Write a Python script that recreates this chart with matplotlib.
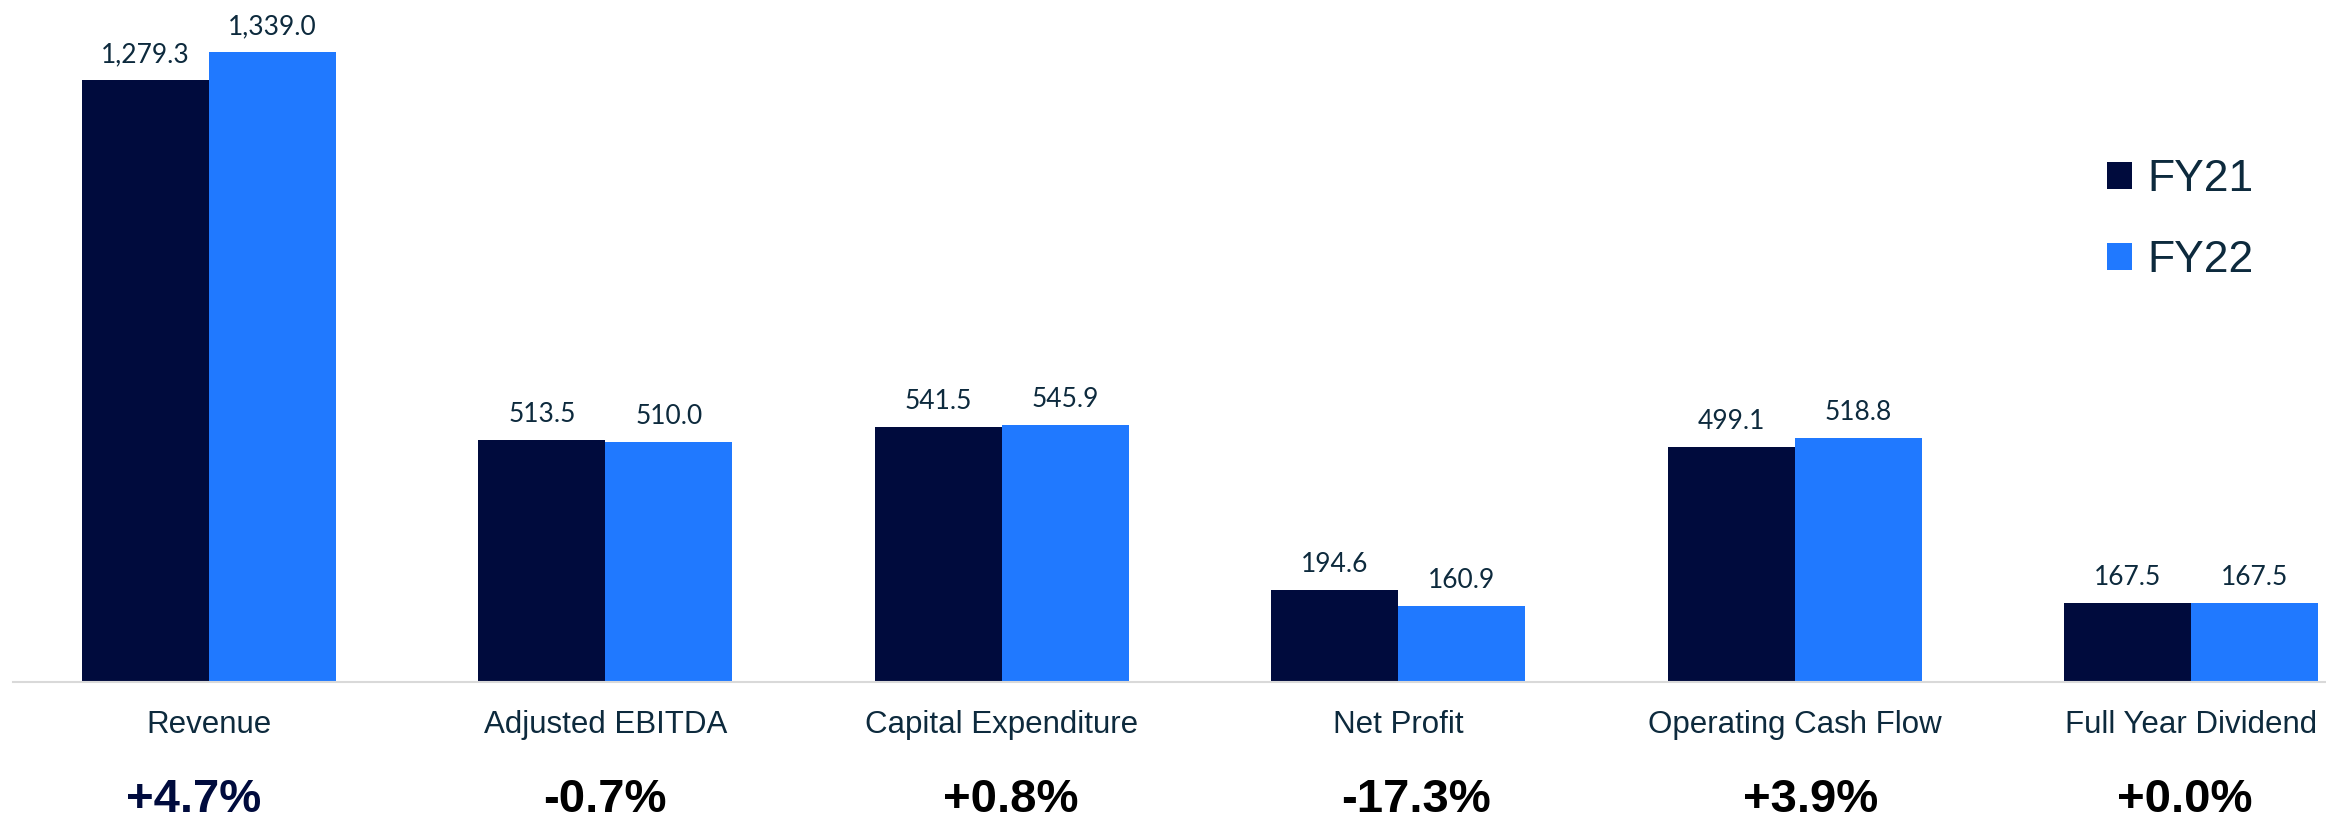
import matplotlib.pyplot as plt
import numpy as np

# data
categories = ['Revenue', 'Adjusted EBITDA', 'Capital Expenditure', 'Net Profit',
              'Operating Cash Flow', 'Full Year Dividend']
fy21 = [1279.3, 513.5, 541.5, 194.6, 499.1, 167.5]
fy22 = [1339.0, 510.0, 545.9, 160.9, 518.8, 167.5]
changes = ['+4.7%', '-0.7%', '+0.8%', '-17.3%', '+3.9%', '+0.0%']
series_names = ['FY21', 'FY22']

# horizontal nudges (points) of the change labels, as placed in the source slide
change_dx = [-10.8, 0, 6.5, 13, 11.5, -5]

NAVY = '#000b3d'
BLUE = '#2079ff'
TEXT = '#0d2a3d'

fig = plt.figure(figsize=(23.26, 8.18), dpi=100)
ax = fig.add_axes([0.0056, 0.1663, 0.9944, 0.8337])

x = np.arange(len(categories))
w = 0.32
b1 = ax.bar(x - w / 2, fy21, w, color=NAVY, label=series_names[0])
b2 = ax.bar(x + w / 2, fy22, w, color=BLUE, label=series_names[1])

ax.set_xlim(-0.494, 5.34)
ax.set_ylim(0, 1450)

# value labels above bars
for bars, vals in [(b1, fy21), (b2, fy22)]:
    for rect, v in zip(bars, vals):
        ax.annotate(f'{v:,.1f}', xy=(rect.get_x() + rect.get_width() / 2, v),
                    xytext=(0, 13), textcoords='offset points',
                    ha='center', va='baseline', fontsize=19,
                    family='Lato', color=TEXT)

# category names and change labels under the axis
for i, (cat, ch) in enumerate(zip(categories, changes)):
    ax.annotate(cat, xy=(i, 0), xycoords=('data', 'axes fraction'),
                xytext=(0, -36.7), textcoords='offset points',
                ha='center', va='baseline', fontsize=22.5,
                family='Liberation Sans', color=TEXT, annotation_clip=False)
    ax.annotate(ch, xy=(i, 0), xycoords=('data', 'axes fraction'),
                xytext=(change_dx[i], -93.6), textcoords='offset points',
                ha='center', va='baseline', fontsize=34, fontweight='bold',
                family='Liberation Sans', color=NAVY if i == 0 else 'black',
                annotation_clip=False)

for s in ['top', 'right', 'left']:
    ax.spines[s].set_visible(False)
ax.spines['bottom'].set_color('#d9d9d9')
ax.spines['bottom'].set_linewidth(1.5)
ax.set_xticks([])
ax.set_yticks([])

leg = fig.legend(handles=[b1, b2], loc='center left', bbox_to_anchor=(0.906, 0.731),
                 frameon=False, borderpad=0, borderaxespad=0,
                 handlelength=0.55, handleheight=0.55, handletextpad=0.35,
                 labelspacing=0.9, prop={'family': 'Liberation Sans', 'size': 32})
for t in leg.get_texts():
    t.set_color(TEXT)

fig.savefig('out.png', dpi=100)
